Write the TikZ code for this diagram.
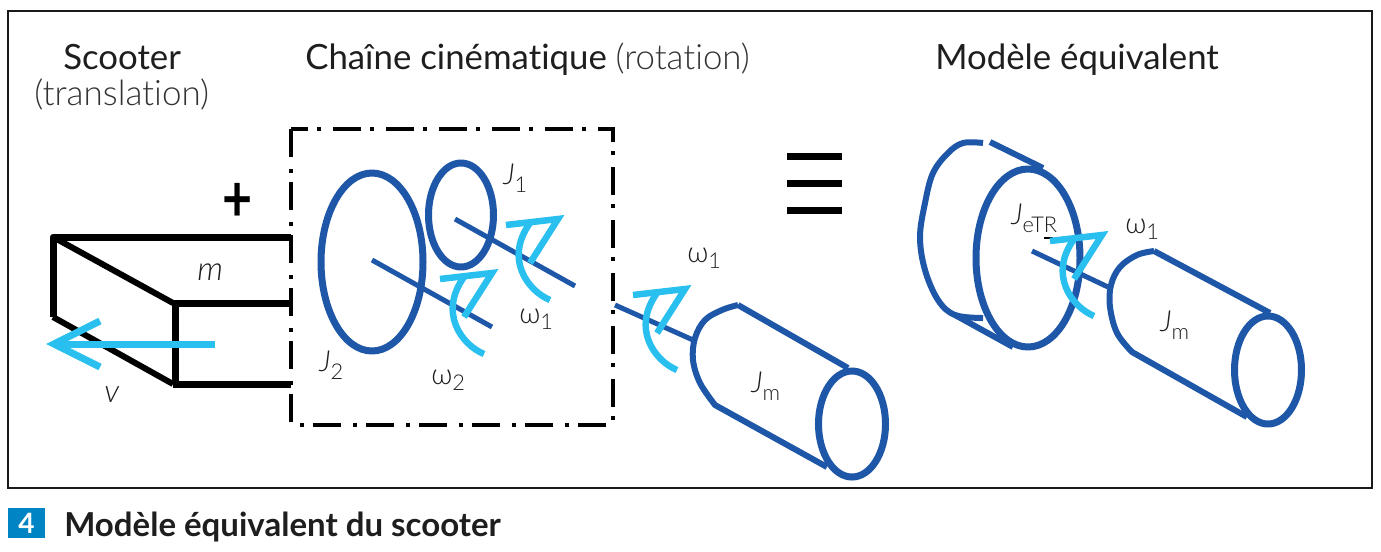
\documentclass[tikz,border=0pt]{standalone}
\usepackage{fontspec}
\setmainfont[Ligatures=NoCommon]{Lato}
\newfontfamily\lightfont[Ligatures=NoCommon]{Lato Light}
\definecolor{frameblk}{HTML}{1A1A1A}
\definecolor{mechblue}{HTML}{1F57A8}
\definecolor{skyarrow}{HTML}{29C0F0}
\definecolor{tagblue}{HTML}{0084C3}
\definecolor{txtdark}{HTML}{1E1E1E}
\definecolor{txtgrey}{HTML}{333333}
\newcommand{\pxfont}[1]{\pgfmathsetmacro{\pxsize}{#1*0.75}\fontsize{\pxsize}{\pxsize}\selectfont}
\newcommand{\sublabel}[2]{\lightfont\textit{#1}\raisebox{-0.28em}{\scalebox{0.75}{#2}}}
\newcommand{\omegalabel}[1]{\lightfont ω\raisebox{-0.22em}{\scalebox{0.75}{#1}}}
\tikzset{
  x=0.75pt,y=-0.75pt,
  px/.style={line width=#1*0.75pt},
  scooterline/.style={draw=black,px=7,line join=round},
  blueline/.style={draw=mechblue,px=6,line join=round},
  bluethin/.style={draw=mechblue,px=5},
  chainbox/.style={draw=black,px=4,dash pattern=on 21pt off 9pt on 3pt off 6.75pt},
  lbl/.style={inner sep=0pt,anchor=base west,text=txtdark},
  rotarrow/.pic={
    \draw[draw=skyarrow,px=6.5,line join=miter] (-52,6) -- (0,0) -- (-28,44);
    \draw[draw=skyarrow,px=6.5,line join=round] (-8,81) .. controls (-30,72) and (-54,40) .. (-28,4);
  }
}
\begin{document}
\begin{tikzpicture}
\useasboundingbox (0,0) rectangle (1381,551);
\fill[white] (0,0) rectangle (1381,551);
\draw[draw=frameblk,px=2.5] (8,11) rectangle (1372,488);
% titles
\node[lbl] (t1) at (63,69) {\pxfont{34.8}Scooter};
\node[lbl,text=txtgrey] (t1b) at (34,105) {\pxfont{35}\lightfont (translation)};
\node[lbl] (t2) at (305,69) {\pxfont{34.8}Chaîne cinématique \textcolor{txtgrey}{\lightfont (rotation)}};
\node[lbl] (t3) at (935,69) {\pxfont{34.8}Modèle équivalent};
% scooter
\draw[scooterline] (291,237) -- (53,237) -- (53,317);
\draw[scooterline,px=6] (53,237) -- (173,303);
\draw[scooterline] (173,303) -- (291,303);
\draw[scooterline] (175,303) -- (175,384);
\draw[scooterline,px=6] (53,317) -- (173,384);
\draw[scooterline] (173,384) -- (291,384);
\node[inner sep=0pt,text=black] (plus) at (238,202) {\pxfont{52}\bfseries\scalebox{1}[1.25]{+}};
\node[lbl] (mlab) at (197,280) {\pxfont{33}\lightfont\textit{m}};
\node[lbl] (vlab) at (104,402) {\pxfont{32}\lightfont\textit{v}};
\draw[draw=skyarrow,px=7] (215,344) -- (54,344);
\draw[draw=skyarrow,px=7,line join=miter] (100,321) -- (54,344) -- (100,367);
% chain box
\draw[chainbox] (291,129) rectangle (613,425);
\draw[blueline,px=7] (372,262) ellipse [x radius=51,y radius=89];
\draw[blueline,px=7] (461,215) ellipse [x radius=32.5,y radius=52];
\draw[bluethin] (372,260) -- (492,327);
\draw[bluethin] (455,219) -- (575,286);
\pic at (558,219) {rotarrow};
\pic at (492,273) {rotarrow};
\node[lbl] (j1) at (503,184) {\pxfont{29}\sublabel{J}{1}};
\node[lbl] (j2) at (319,371) {\pxfont{29}\sublabel{J}{2}};
\node[lbl] (w1a) at (519,323) {\pxfont{29}\omegalabel{1}};
\node[lbl] (w2) at (431,384) {\pxfont{29}\omegalabel{2}};
% motor 1
\draw[bluethin] (615,305) -- (693,340);
\draw[blueline] (848,368) -- (738,305) plot[smooth,tension=0.6] coordinates {(738,305) (722,310) (705,320) (695,338) (693,360) (700,383) (715,405)} -- (827,467);
\draw[blueline,px=7] (852,424) ellipse [x radius=33.5,y radius=53];
\pic at (685,289) {rotarrow};
\node[lbl] (w1b) at (687,262) {\pxfont{29}\omegalabel{1}};
\node[lbl] (jm1) at (751,392) {\pxfont{29}\sublabel{J}{m}};
% equivalence sign
\foreach \yy in {156,183,210} \draw[draw=black,px=7] (787,\yy) -- (842,\yy);
% equivalent model
\draw[blueline] plot[smooth,tension=0.6] coordinates {(983,143) (963,143) (948,153) (933,173) (925,203) (920,237) (925,270) (938,300) (955,315) (983,318)};
\draw[blueline] (955,315) -- (1013,347);
\draw[blueline] (990,142) -- (1043,168);
\draw[blueline,px=7] (1028,258) ellipse [x radius=52,y radius=89];
\draw[bluethin] (1032,251) -- (1108,287);
\draw[draw=black,px=2] (1044,238) -- (1053,238);
\pic at (1102,235) {rotarrow};
\node[lbl] (jetr) at (1011,224) {\pxfont{29}\sublabel{J}{eTR}};
\node[lbl] (w1c) at (1125,233) {\pxfont{29}\omegalabel{1}};
\draw[blueline] (1270,313) -- (1154,251) plot[smooth,tension=0.6] coordinates {(1154,251) (1137,255) (1120,267) (1111,285) (1110,307) (1117,333) (1132,352)} -- (1247,417);
\draw[blueline,px=7] (1268,370) ellipse [x radius=33.5,y radius=54];
\node[lbl] (jm2) at (1160,331) {\pxfont{29}\sublabel{J}{m}};
% caption
\node[fill=tagblue,text=white,minimum width=28pt,minimum height=22.5pt,inner sep=0pt] (tag) at (26.5,523) {\pxfont{28}\bfseries 4};
\node[lbl] (cap) at (64,536) {\pxfont{33}\bfseries Modèle équivalent du scooter};
\end{tikzpicture}
\end{document}
